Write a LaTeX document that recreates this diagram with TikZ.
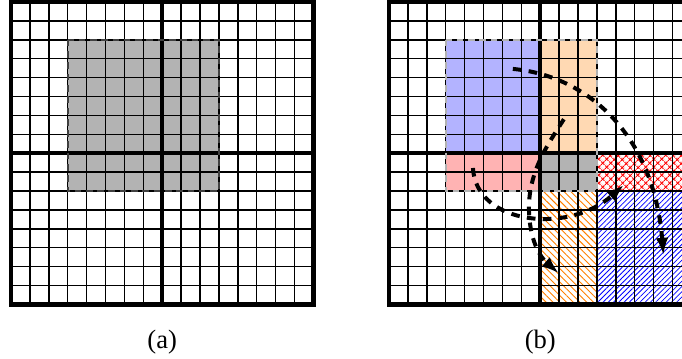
\documentclass[tikz,border=0pt]{standalone}
\usepackage{fontspec}
\setmainfont{Liberation Serif}
\usetikzlibrary{patterns.meta,arrows.meta}
\definecolor{cblue}{RGB}{179,179,255}
\definecolor{cpeach}{RGB}{255,217,179}
\definecolor{cpink}{RGB}{255,179,179}
\definecolor{cgray}{RGB}{179,179,179}
\definecolor{horange}{RGB}{255,128,0}
\begin{document}
\begin{tikzpicture}[x=0.5cm,y=-0.5cm,
  thingrid/.style={draw=black,line width=1.1pt},
  thickframe/.style={draw=black,line width=3.3pt},
  regionborder/.style={line width=1.3pt,dash pattern=on 5pt off 3.5pt},
  flow/.style={line width=3pt,dash pattern=on 6.5pt off 5.5pt,-{Latex[length=13pt,width=9.5pt]}},
  caption/.style={font=\fontsize{20}{24}\selectfont}]
\useasboundingbox (-0.582,-0.106) rectangle (35.50,18.84);
\clip (-0.582,-0.106) rectangle (35.50,18.84);

% ---------- panel (a) ----------
\begin{scope}
  \fill[cgray] (3,2) rectangle (11,10);
  \foreach \i in {1,...,15} {
    \draw[thingrid] (\i,0) -- (\i,16);
    \draw[thingrid] (0,\i) -- (16,\i);
  }
  \draw[thickframe] (0,0) rectangle (16,16);
  \draw[thickframe] (8,0) -- (8,16);
  \draw[thickframe] (0,8) -- (16,8);
  \draw[regionborder,draw=black!75] (3,2) rectangle (11,10);
  \node[caption] (la) at (8,17.97) {(a)};
\end{scope}

% ---------- panel (b) ----------
\begin{scope}[shift={(20,0)}]
  \fill[cblue] (3,2) rectangle (8,8);
  \fill[cpeach] (8,2) rectangle (11,8);
  \fill[cpink] (3,8) rectangle (8,10);
  \fill[cgray] (8,8) rectangle (11,10);
  \fill[pattern={Hatch[angle=45,distance=4pt,line width=0.9pt]},pattern color=red] (11,8) rectangle (16,10);
  \fill[pattern={Lines[angle=-45,distance=3.6pt,line width=0.7pt]},pattern color=horange] (8,10) rectangle (11,16);
  \fill[pattern={Lines[angle=45,distance=2.8pt,line width=0.6pt]},pattern color=blue] (11,10) rectangle (16,16);
  \foreach \i in {1,...,15} {
    \draw[thingrid] (\i,0) -- (\i,16);
    \draw[thingrid] (0,\i) -- (16,\i);
  }
  \draw[thickframe] (0,0) rectangle (16,16);
  \draw[thickframe] (8,0) -- (8,16);
  \draw[thickframe] (0,8) -- (16,8);
  \draw[regionborder,draw=black!30] (3,2) rectangle (11,10);

  \coordinate (s1) at (6.55,3.54);
  \coordinate (e1) at (14.52,13.39);
  \coordinate (s2) at (9.25,6.2);
  \coordinate (m2) at (7.4,10.8);
  \coordinate (e2) at (8.98,14.35);
  \coordinate (s3) at (4.44,8.78);
  \coordinate (e3) at (12.42,9.68);
  \draw[flow] (s1) .. controls (10.5,3.9) and (14.0,7.0) .. (e1);
  \draw[flow] (s2) .. controls (8.5,7.4) and (7.45,8.8) .. (m2) .. controls (7.4,12.6) and (8.0,13.5) .. (e2);
  \draw[flow] (s3) .. controls (4.6,11.8) and (9.5,12.3) .. (e3);
  \node[caption] (lb) at (8,17.97) {(b)};
\end{scope}
\end{tikzpicture}
\end{document}
